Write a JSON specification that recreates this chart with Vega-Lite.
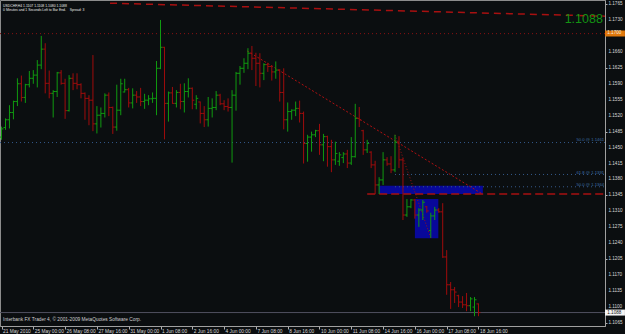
{
"$schema": "https://vega.github.io/schema/vega-lite/v6.json",
"width": 605, "height": 326,
"autosize": {"type": "none"},
"padding": {"left": 0, "top": 0, "right": 20, "bottom": 8},
"background": "#0b0e10",
"config": {
  "view": {"stroke": "#8c8c8c", "strokeWidth": 1, "fill": "#0b0e10"},
  "font": "Liberation Sans",
  "axis": {"grid": false, "labelOverlap": false}
},
"datasets": {
"bars": [
{"i":0,"o":1.1473,"h":1.1496,"l":1.1467,"c":1.1491},
{"i":1,"o":1.1494,"h":1.1514,"l":1.1489,"c":1.1511},
{"i":2,"o":1.1511,"h":1.1543,"l":1.1492,"c":1.1527},
{"i":3,"o":1.1527,"h":1.1553,"l":1.1512,"c":1.1551},
{"i":4,"o":1.1551,"h":1.1602,"l":1.1541,"c":1.1590},
{"i":5,"o":1.1590,"h":1.1608,"l":1.1551,"c":1.1560},
{"i":6,"o":1.1560,"h":1.1590,"l":1.1548,"c":1.1588},
{"i":7,"o":1.1588,"h":1.1618,"l":1.1582,"c":1.1602},
{"i":8,"o":1.1602,"h":1.1620,"l":1.1590,"c":1.1609},
{"i":9,"o":1.1609,"h":1.1642,"l":1.1582,"c":1.1631},
{"i":10,"o":1.1631,"h":1.1695,"l":1.1622,"c":1.1666},
{"i":11,"o":1.1666,"h":1.1679,"l":1.1569,"c":1.1591},
{"i":12,"o":1.1591,"h":1.1619,"l":1.1558,"c":1.1569},
{"i":13,"o":1.1569,"h":1.1576,"l":1.1516,"c":1.1573},
{"i":14,"o":1.1573,"h":1.1616,"l":1.1561,"c":1.1614},
{"i":15,"o":1.1614,"h":1.1620,"l":1.1588,"c":1.1591},
{"i":16,"o":1.1591,"h":1.1601,"l":1.1513,"c":1.1531},
{"i":17,"o":1.1531,"h":1.1609,"l":1.1529,"c":1.1602},
{"i":18,"o":1.1602,"h":1.1613,"l":1.1576,"c":1.1591},
{"i":19,"o":1.1591,"h":1.1613,"l":1.1578,"c":1.1588},
{"i":20,"o":1.1588,"h":1.1591,"l":1.1558,"c":1.1569},
{"i":21,"o":1.1569,"h":1.1571,"l":1.1511,"c":1.1558},
{"i":22,"o":1.1558,"h":1.1565,"l":1.1499,"c":1.1554},
{"i":23,"o":1.1554,"h":1.1653,"l":1.1486,"c":1.1502},
{"i":24,"o":1.1502,"h":1.1541,"l":1.1481,"c":1.1521},
{"i":25,"o":1.1521,"h":1.1538,"l":1.1494,"c":1.1525},
{"i":26,"o":1.1525,"h":1.1569,"l":1.1516,"c":1.1565},
{"i":27,"o":1.1565,"h":1.1571,"l":1.1519,"c":1.1538},
{"i":28,"o":1.1538,"h":1.1540,"l":1.1480,"c":1.1495},
{"i":29,"o":1.1495,"h":1.1588,"l":1.1487,"c":1.1532},
{"i":30,"o":1.1532,"h":1.1601,"l":1.1521,"c":1.1590},
{"i":31,"o":1.1572,"h":1.1601,"l":1.1571,"c":1.1577},
{"i":32,"o":1.1577,"h":1.1581,"l":1.1538,"c":1.1548},
{"i":33,"o":1.1548,"h":1.1580,"l":1.1536,"c":1.1565},
{"i":34,"o":1.1565,"h":1.1574,"l":1.1548,"c":1.1561},
{"i":35,"o":1.1561,"h":1.1581,"l":1.1541,"c":1.1551},
{"i":36,"o":1.1551,"h":1.1568,"l":1.1535,"c":1.1554},
{"i":37,"o":1.1554,"h":1.1565,"l":1.1543,"c":1.1557},
{"i":38,"o":1.1557,"h":1.1571,"l":1.1548,"c":1.1558},
{"i":39,"o":1.1558,"h":1.1640,"l":1.1521,"c":1.1624},
{"i":40,"o":1.1624,"h":1.1730,"l":1.1622,"c":1.1670},
{"i":41,"o":1.1670,"h":1.1671,"l":1.1468,"c":1.1547},
{"i":42,"o":1.1547,"h":1.1573,"l":1.1507,"c":1.1570},
{"i":43,"o":1.1570,"h":1.1583,"l":1.1546,"c":1.1547},
{"i":44,"o":1.1547,"h":1.1576,"l":1.1538,"c":1.1571},
{"i":45,"o":1.1571,"h":1.1590,"l":1.1534,"c":1.1551},
{"i":46,"o":1.1551,"h":1.1591,"l":1.1527,"c":1.1573},
{"i":47,"o":1.1573,"h":1.1602,"l":1.1560,"c":1.1580},
{"i":48,"o":1.1580,"h":1.1582,"l":1.1534,"c":1.1554},
{"i":49,"o":1.1545,"h":1.1565,"l":1.1534,"c":1.1558},
{"i":50,"o":1.1550,"h":1.1551,"l":1.1503,"c":1.1525},
{"i":51,"o":1.1525,"h":1.1541,"l":1.1495,"c":1.1511},
{"i":52,"o":1.1511,"h":1.1561,"l":1.1496,"c":1.1536},
{"i":53,"o":1.1536,"h":1.1558,"l":1.1516,"c":1.1538},
{"i":54,"o":1.1538,"h":1.1574,"l":1.1532,"c":1.1565},
{"i":55,"o":1.1565,"h":1.1568,"l":1.1543,"c":1.1546},
{"i":56,"o":1.1546,"h":1.1554,"l":1.1532,"c":1.1540},
{"i":57,"o":1.1540,"h":1.1558,"l":1.1529,"c":1.1538},
{"i":58,"o":1.1538,"h":1.1576,"l":1.1417,"c":1.1565},
{"i":59,"o":1.1565,"h":1.1616,"l":1.1531,"c":1.1613},
{"i":60,"o":1.1613,"h":1.1629,"l":1.1588,"c":1.1624},
{"i":61,"o":1.1624,"h":1.1646,"l":1.1614,"c":1.1635},
{"i":62,"o":1.1635,"h":1.1668,"l":1.1622,"c":1.1657},
{"i":63,"o":1.1657,"h":1.1673,"l":1.1620,"c":1.1646},
{"i":64,"o":1.1646,"h":1.1658,"l":1.1585,"c":1.1635},
{"i":65,"o":1.1635,"h":1.1657,"l":1.1582,"c":1.1613},
{"i":66,"o":1.1613,"h":1.1635,"l":1.1598,"c":1.1632},
{"i":67,"o":1.1632,"h":1.1636,"l":1.1616,"c":1.1628},
{"i":68,"o":1.1628,"h":1.1630,"l":1.1597,"c":1.1616},
{"i":69,"o":1.1616,"h":1.1639,"l":1.1601,"c":1.1620},
{"i":70,"o":1.1620,"h":1.1622,"l":1.1551,"c":1.1571},
{"i":71,"o":1.1571,"h":1.1624,"l":1.1490,"c":1.1511},
{"i":72,"o":1.1511,"h":1.1549,"l":1.1485,"c":1.1529},
{"i":73,"o":1.1529,"h":1.1534,"l":1.1511,"c":1.1532},
{"i":74,"o":1.1532,"h":1.1551,"l":1.1519,"c":1.1536},
{"i":75,"o":1.1536,"h":1.1553,"l":1.1505,"c":1.1525},
{"i":76,"o":1.1525,"h":1.1529,"l":1.1415,"c":1.1459},
{"i":77,"o":1.1459,"h":1.1478,"l":1.1419,"c":1.1473},
{"i":78,"o":1.1473,"h":1.1485,"l":1.1441,"c":1.1478},
{"i":79,"o":1.1478,"h":1.1489,"l":1.1473,"c":1.1487},
{"i":80,"o":1.1487,"h":1.1502,"l":1.1434,"c":1.1456},
{"i":81,"o":1.1456,"h":1.1480,"l":1.1420,"c":1.1474},
{"i":82,"o":1.1474,"h":1.1476,"l":1.1408,"c":1.1452},
{"i":83,"o":1.1452,"h":1.1467,"l":1.1396,"c":1.1423},
{"i":84,"o":1.1423,"h":1.1463,"l":1.1412,"c":1.1437},
{"i":85,"o":1.1420,"h":1.1440,"l":1.1410,"c":1.1434},
{"i":86,"o":1.1428,"h":1.1440,"l":1.1416,"c":1.1436},
{"i":87,"o":1.1436,"h":1.1445,"l":1.1405,"c":1.1416},
{"i":88,"o":1.1416,"h":1.1473,"l":1.1412,"c":1.1430},
{"i":89,"o":1.1430,"h":1.1546,"l":1.1428,"c":1.1514},
{"i":90,"o":1.1514,"h":1.1539,"l":1.1495,"c":1.1511},
{"i":91,"o":1.1487,"h":1.1489,"l":1.1434,"c":1.1445},
{"i":92,"o":1.1445,"h":1.1467,"l":1.1438,"c":1.1459},
{"i":93,"o":1.1440,"h":1.1442,"l":1.1405,"c":1.1412},
{"i":94,"o":1.1412,"h":1.1421,"l":1.1348,"c":1.1368},
{"i":95,"o":1.1368,"h":1.1385,"l":1.1348,"c":1.1379},
{"i":96,"o":1.1379,"h":1.1440,"l":1.1368,"c":1.1423},
{"i":97,"o":1.1423,"h":1.1429,"l":1.1410,"c":1.1414},
{"i":98,"o":1.1414,"h":1.1431,"l":1.1394,"c":1.1401},
{"i":99,"o":1.1401,"h":1.1478,"l":1.1396,"c":1.1462},
{"i":100,"o":1.1462,"h":1.1475,"l":1.1405,"c":1.1423},
{"i":101,"o":1.1423,"h":1.1427,"l":1.1291,"c":1.1302},
{"i":102,"o":1.1302,"h":1.1337,"l":1.1298,"c":1.1320},
{"i":103,"o":1.1320,"h":1.1337,"l":1.1317,"c":1.1335},
{"i":104,"o":1.1335,"h":1.1337,"l":1.1294,"c":1.1302},
{"i":105,"o":1.1302,"h":1.1317,"l":1.1276,"c":1.1313},
{"i":106,"o":1.1313,"h":1.1335,"l":1.1291,"c":1.1330},
{"i":107,"o":1.1320,"h":1.1322,"l":1.1307,"c":1.1311},
{"i":108,"o":1.1268,"h":1.1307,"l":1.1252,"c":1.1300},
{"i":109,"o":1.1300,"h":1.1320,"l":1.1291,"c":1.1313},
{"i":110,"o":1.1313,"h":1.1317,"l":1.1307,"c":1.1309},
{"i":111,"o":1.1309,"h":1.1328,"l":1.1208,"c":1.1210},
{"i":112,"o":1.1210,"h":1.1225,"l":1.1127,"c":1.1149},
{"i":113,"o":1.1149,"h":1.1155,"l":1.1096,"c":1.1138},
{"i":114,"o":1.1138,"h":1.1144,"l":1.1109,"c":1.1133},
{"i":115,"o":1.1125,"h":1.1127,"l":1.1100,"c":1.1111},
{"i":116,"o":1.1111,"h":1.1124,"l":1.1098,"c":1.1105},
{"i":117,"o":1.1105,"h":1.1131,"l":1.1091,"c":1.1103},
{"i":118,"o":1.1103,"h":1.1122,"l":1.1091,"c":1.1118},
{"i":119,"o":1.1100,"h":1.1122,"l":1.1080,"c":1.1116},
{"i":120,"o":1.1107,"h":1.1108,"l":1.1080,"c":1.1088}
],
"ylabels": [
{"i":152.7,"p":1.1065,"t":"1.1065"},{"i":152.7,"p":1.1100,"t":"1.1100"},{"i":152.7,"p":1.1135,"t":"1.1135"},
{"i":152.7,"p":1.1170,"t":"1.1170"},{"i":152.7,"p":1.1205,"t":"1.1205"},{"i":152.7,"p":1.1240,"t":"1.1240"},
{"i":152.7,"p":1.1275,"t":"1.1275"},{"i":152.7,"p":1.1310,"t":"1.1310"},{"i":152.7,"p":1.1345,"t":"1.1345"},
{"i":152.7,"p":1.1380,"t":"1.1380"},{"i":152.7,"p":1.1415,"t":"1.1415"},{"i":152.7,"p":1.1450,"t":"1.1450"},
{"i":152.7,"p":1.1485,"t":"1.1485"},{"i":152.7,"p":1.1520,"t":"1.1520"},{"i":152.7,"p":1.1555,"t":"1.1555"},
{"i":152.7,"p":1.1590,"t":"1.1590"},{"i":152.7,"p":1.1625,"t":"1.1625"},{"i":152.7,"p":1.1660,"t":"1.1660"},
{"i":152.7,"p":1.1730,"t":"1.1730"},{"i":152.7,"p":1.1765,"t":"1.1765"}
]
},
"layer": [
{
 "data": {"values": [{"i":95.0,"i2":121.1,"p":1.13664,"p2":1.13482},{"i":104.0,"i2":109.9,"p":1.13372,"p2":1.1251}]},
 "mark": {"type": "rect", "fill": "#08089a"},
 "encoding": {
  "x": {"field":"i","type":"quantitative","scale":{"domain":[-0.38,151.83],"nice":false,"zero":false}},
  "x2": {"field":"i2"},
  "y": {"field":"p","type":"quantitative","scale":{"domain":[1.10585,1.17738],"nice":false,"zero":false}},
  "y2": {"field":"p2"}
 }
},
{
 "data": {"values": [{"i":-0.38,"i2":151.83,"p":1.17}]},
 "mark": {"type": "rule", "stroke": "#8a1212", "strokeWidth": 1, "strokeDash": [1,3]},
 "encoding": {
  "x": {"field":"i","type":"quantitative","scale":{"domain":[-0.38,151.83],"nice":false,"zero":false}},
  "x2": {"field":"i2"},
  "y": {"field":"p","type":"quantitative","scale":{"domain":[1.10585,1.17738],"nice":false,"zero":false}}
 }
},
{
 "data": {"values": [{"i":-0.38,"i2":151.83,"p":1.1461},{"i":99,"i2":151.83,"p":1.1391},{"i":99,"i2":151.83,"p":1.1364}]},
 "mark": {"type": "rule", "stroke": "#34598a", "strokeWidth": 1, "strokeDash": [1,3]},
 "encoding": {
  "x": {"field":"i","type":"quantitative","scale":{"domain":[-0.38,151.83],"nice":false,"zero":false}},
  "x2": {"field":"i2"},
  "y": {"field":"p","type":"quantitative","scale":{"domain":[1.10585,1.17738],"nice":false,"zero":false}}
 }
},
{
 "data": {"values": [{"i":92,"i2":151.83,"p":1.1348}]},
 "mark": {"type": "rule", "stroke": "#a81010", "strokeWidth": 1.5, "strokeDash": [8,4]},
 "encoding": {
  "x": {"field":"i","type":"quantitative","scale":{"domain":[-0.38,151.83],"nice":false,"zero":false}},
  "x2": {"field":"i2"},
  "y": {"field":"p","type":"quantitative","scale":{"domain":[1.10585,1.17738],"nice":false,"zero":false}}
 }
},
{
 "data": {"values": [{"i":-0.38,"i2":151.83,"p":1.1088}]},
 "mark": {"type": "rule", "stroke": "#505060", "strokeWidth": 1},
 "encoding": {
  "x": {"field":"i","type":"quantitative","scale":{"domain":[-0.38,151.83],"nice":false,"zero":false}},
  "x2": {"field":"i2"},
  "y": {"field":"p","type":"quantitative","scale":{"domain":[1.10585,1.17738],"nice":false,"zero":false}}
 }
},
{
 "data": {"values": [{"i":27.3,"p":1.17668},{"i":151.83,"p":1.17383}]},
 "mark": {"type": "line", "stroke": "#a81010", "strokeWidth": 1.5, "strokeDash": [7,5]},
 "encoding": {
  "x": {"field":"i","type":"quantitative","scale":{"domain":[-0.38,151.83],"nice":false,"zero":false}},
  "y": {"field":"p","type":"quantitative","scale":{"domain":[1.10585,1.17738],"nice":false,"zero":false}}
 }
},
{
 "data": {"values": [{"i":61.8,"p":1.1662},{"i":121.0,"p":1.1348}]},
 "mark": {"type": "line", "stroke": "#b01010", "strokeWidth": 1, "strokeDash": [2,2]},
 "encoding": {
  "x": {"field":"i","type":"quantitative","scale":{"domain":[-0.38,151.83],"nice":false,"zero":false}},
  "y": {"field":"p","type":"quantitative","scale":{"domain":[1.10585,1.17738],"nice":false,"zero":false}}
 }
},
{
 "data": {"values": [{"i":99,"p":1.1478},{"i":108,"p":1.1252}]},
 "mark": {"type": "line", "stroke": "#a01010", "strokeWidth": 1, "strokeDash": [1,2]},
 "encoding": {
  "x": {"field":"i","type":"quantitative","scale":{"domain":[-0.38,151.83],"nice":false,"zero":false}},
  "y": {"field":"p","type":"quantitative","scale":{"domain":[1.10585,1.17738],"nice":false,"zero":false}}
 }
},
{
 "data": {"name": "bars"},
 "mark": {"type": "rule", "strokeWidth": 1},
 "encoding": {
  "x": {"field":"i","type":"quantitative","scale":{"domain":[-0.38,151.83],"nice":false,"zero":false},
        "axis":{"orient":"bottom","title":null,"grid":false,"values":[0,8,16,24,32,40,48,56,64,72,80,88,96,104,112,120],
          "labelExpr":"['21 May 2010','25 May 00:00','26 May 08:00','27 May 16:00','31 May 00:00','1 Jun 08:00','2 Jun 16:00','4 Jun 00:00','7 Jun 08:00','8 Jun 16:00','10 Jun 00:00','11 Jun 08:00','14 Jun 16:00','16 Jun 00:00','17 Jun 08:00','18 Jun 16:00'][round(datum.value/8)]",
          "labelAlign":"left","labelBaseline":"top","labelPadding":-1,"labelOffset":1,"labelFontSize":4.8,"labelFont":"Liberation Sans","labelColor":"#d8d8d8",
          "tickSize":3,"tickColor":"#b0b0b0","domainColor":"#a0a0a0","labelOverlap":false,"labelFlush":false}},
  "y": {"field":"l","type":"quantitative","scale":{"domain":[1.10585,1.17738],"nice":false,"zero":false},
        "axis":{"orient":"right","title":null,"grid":false,"labels":false,"values":[1.1065,1.11,1.1135,1.117,1.1205,1.124,1.1275,1.131,1.1345,1.138,1.1415,1.145,1.1485,1.152,1.1555,1.159,1.1625,1.166,1.1695,1.173,1.1765],
          "tickSize":2,"tickColor":"#b0b0b0","domainColor":"#a0a0a0"}},
  "y2": {"field":"h"},
  "color": {"condition": {"test":"datum.c > datum.o","value":"#109a10"},"value":"#a00c0c"}
 }
},
{
 "data": {"name": "bars"},
 "mark": {"type": "rule", "strokeWidth": 1, "xOffset": -2, "x2Offset": 0},
 "encoding": {
  "x": {"field":"i","type":"quantitative","scale":{"domain":[-0.38,151.83],"nice":false,"zero":false}},
  "x2": {"field":"i"},
  "y": {"field":"o","type":"quantitative","scale":{"domain":[1.10585,1.17738],"nice":false,"zero":false}},
  "color": {"condition": {"test":"datum.c > datum.o","value":"#109a10"},"value":"#a00c0c"}
 }
},
{
 "data": {"name": "bars"},
 "mark": {"type": "rule", "strokeWidth": 1, "xOffset": 0, "x2Offset": 2},
 "encoding": {
  "x": {"field":"i","type":"quantitative","scale":{"domain":[-0.38,151.83],"nice":false,"zero":false}},
  "x2": {"field":"i"},
  "y": {"field":"c","type":"quantitative","scale":{"domain":[1.10585,1.17738],"nice":false,"zero":false}},
  "color": {"condition": {"test":"datum.c > datum.o","value":"#109a10"},"value":"#a00c0c"}
 }
},
{
 "data": {"name": "ylabels"},
 "mark": {"type": "text", "align": "left", "baseline": "middle", "fontSize": 4.6, "font": "Liberation Sans", "fill": "#d8d8d8"},
 "encoding": {
  "x": {"field":"i","type":"quantitative","scale":{"domain":[-0.38,151.83],"nice":false,"zero":false}},
  "y": {"field":"p","type":"quantitative","scale":{"domain":[1.10585,1.17738],"nice":false,"zero":false}},
  "text": {"field":"t","type":"nominal"}
 }
},
{
 "data": {"values": [{"i":0.4,"p":1.17595,"t":"USDCHF,H4  1.1107 1.1108 1.1080 1.1088"},{"i":0.4,"p":1.17486,"t":"0 Minutes and 1 Seconds Left to Bar End.\u00a0\u00a0\u00a0\u00a0Spread: 3"}]},
 "mark": {"type": "text", "align": "left", "baseline": "alphabetic", "fontSize": 3.4, "font": "Liberation Sans", "fill": "#e8e8e8"},
 "encoding": {
  "x": {"field":"i","type":"quantitative","scale":{"domain":[-0.38,151.83],"nice":false,"zero":false}},
  "y": {"field":"p","type":"quantitative","scale":{"domain":[1.10585,1.17738],"nice":false,"zero":false}},
  "text": {"field":"t","type":"nominal"}
 }
},
{
 "data": {"values": [{"i":0.4,"p":1.10684,"t":"Interbank FX Trader 4, © 2001-2009 MetaQuotes Software Corp."}]},
 "mark": {"type": "text", "align": "left", "baseline": "alphabetic", "fontSize": 4.8, "font": "Liberation Sans", "fill": "#d0d0d0"},
 "encoding": {
  "x": {"field":"i","type":"quantitative","scale":{"domain":[-0.38,151.83],"nice":false,"zero":false}},
  "y": {"field":"p","type":"quantitative","scale":{"domain":[1.10585,1.17738],"nice":false,"zero":false}},
  "text": {"field":"t","type":"nominal"}
 }
},
{
 "data": {"values": [{"i":151.3,"p":1.17233,"t":"1.1088"}]},
 "mark": {"type": "text", "align": "right", "baseline": "alphabetic", "fontSize": 12.5, "font": "Liberation Sans", "fill": "#139313"},
 "encoding": {
  "x": {"field":"i","type":"quantitative","scale":{"domain":[-0.38,151.83],"nice":false,"zero":false}},
  "y": {"field":"p","type":"quantitative","scale":{"domain":[1.10585,1.17738],"nice":false,"zero":false}},
  "text": {"field":"t","type":"nominal"}
 }
},
{
 "data": {"values": [{"i":151.6,"p":1.14653,"t":"50.0 @ 1.1461"},{"i":151.6,"p":1.13925,"t":"61.8 @ 1.1391"},{"i":151.6,"p":1.1366,"t":"50.0 @ 1.1364"}]},
 "mark": {"type": "text", "align": "right", "baseline": "alphabetic", "fontSize": 4.2, "font": "Liberation Sans", "fill": "#3d6fa8"},
 "encoding": {
  "x": {"field":"i","type":"quantitative","scale":{"domain":[-0.38,151.83],"nice":false,"zero":false}},
  "y": {"field":"p","type":"quantitative","scale":{"domain":[1.10585,1.17738],"nice":false,"zero":false}},
  "text": {"field":"t","type":"nominal"}
 }
},
{
 "data": {"values": [{"i":151.83,"i2":156.85,"p":1.17069,"p2":1.16937,"f":"orange"},{"i":151.83,"i2":156.85,"p":1.10945,"p2":1.10814,"f":"white"}]},
 "mark": {"type": "rect"},
 "encoding": {
  "x": {"field":"i","type":"quantitative","scale":{"domain":[-0.38,151.83],"nice":false,"zero":false}},
  "x2": {"field":"i2"},
  "y": {"field":"p","type":"quantitative","scale":{"domain":[1.10585,1.17738],"nice":false,"zero":false}},
  "y2": {"field":"p2"},
  "fill": {"field":"f","type":"nominal","scale":{"domain":["orange","white"],"range":["#e0780c","#f4f4f4"]},"legend":null}
 }
},
{
 "data": {"values": [{"i":152.4,"p":1.17003,"t":"1.1700","f":"orange"},{"i":152.4,"p":1.1088,"t":"1.1088","f":"white"}]},
 "mark": {"type": "text", "align": "left", "baseline": "middle", "fontSize": 4.6, "font": "Liberation Sans"},
 "encoding": {
  "x": {"field":"i","type":"quantitative","scale":{"domain":[-0.38,151.83],"nice":false,"zero":false}},
  "y": {"field":"p","type":"quantitative","scale":{"domain":[1.10585,1.17738],"nice":false,"zero":false}},
  "text": {"field":"t","type":"nominal"},
  "color": {"field":"f","type":"nominal","scale":{"domain":["orange","white"],"range":["#f8f0e0","#101010"]},"legend":null}
 }
}
]
}
